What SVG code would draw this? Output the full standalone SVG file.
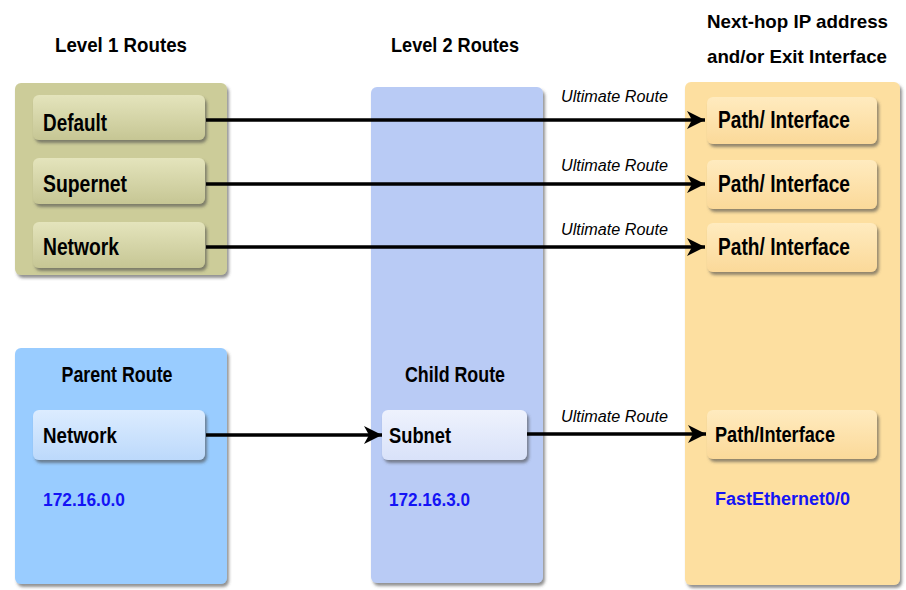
<svg xmlns="http://www.w3.org/2000/svg" width="906" height="590" viewBox="0 0 906 590">
<defs>
<filter id="sh" x="-10%" y="-10%" width="130%" height="130%">
<feDropShadow dx="2" dy="3" stdDeviation="1.6" flood-color="#4a4a4a" flood-opacity="0.6"/>
</filter>
<linearGradient id="gOlive" x1="0" y1="0" x2="0" y2="1">
<stop offset="0" stop-color="#e4e4bc"/><stop offset="1" stop-color="#c6c694"/>
</linearGradient>
<linearGradient id="gBlue" x1="0" y1="0" x2="0" y2="1">
<stop offset="0" stop-color="#dcecff"/><stop offset="1" stop-color="#bcd9fb"/>
</linearGradient>
<linearGradient id="gLav" x1="0" y1="0" x2="0" y2="1">
<stop offset="0" stop-color="#eef2fd"/><stop offset="1" stop-color="#d9e2f9"/>
</linearGradient>
<linearGradient id="gOrange" x1="0" y1="0" x2="0" y2="1">
<stop offset="0" stop-color="#ffebbf"/><stop offset="1" stop-color="#fbd999"/>
</linearGradient>
<marker id="arr" markerUnits="userSpaceOnUse" markerWidth="20" markerHeight="20" refX="18" refY="9" orient="auto">
<path d="M0,0 L18,9 L0,18 L5,9 z" fill="#000"/>
</marker>
<style>
text{font-family:"Liberation Sans",Arial,sans-serif;font-weight:bold;fill:#000}
.t{font-size:21px}
.t2{font-size:19px}
.l{font-size:24px}
.m{font-size:22px}
.ip{font-size:18px;fill:#1414f5}
.u{font-size:16px;font-weight:normal;font-style:italic}
.cont{filter:url(#sh)}
.box{filter:url(#sh)}
.conn{stroke:#000;stroke-width:3.5;fill:none;marker-end:url(#arr)}
</style>
</defs>
<rect width="906" height="590" fill="#fff"/>

<g id="titles">
<text class="t" x="121" y="52" text-anchor="middle" textLength="132" lengthAdjust="spacingAndGlyphs">Level 1 Routes</text>
<text class="t" x="455" y="52" text-anchor="middle" textLength="128" lengthAdjust="spacingAndGlyphs">Level 2 Routes</text>
<text class="t2" x="707" y="28" textLength="181" lengthAdjust="spacingAndGlyphs">Next-hop IP address</text>
<text class="t2" x="707" y="63" textLength="180" lengthAdjust="spacingAndGlyphs">and/or Exit Interface</text>
</g>

<g id="level1">
<rect class="cont" x="15" y="83" width="212" height="192" rx="6" fill="#cccc99"/>
<g id="default">
<rect class="box" x="33" y="95" width="172" height="45" rx="6" fill="url(#gOlive)"/>
<text class="l" x="43" y="131" textLength="64" lengthAdjust="spacingAndGlyphs">Default</text>
</g>
<g id="supernet">
<rect class="box" x="33" y="158" width="172" height="46" rx="6" fill="url(#gOlive)"/>
<text class="l" x="43" y="192" textLength="84" lengthAdjust="spacingAndGlyphs">Supernet</text>
</g>
<g id="network1">
<rect class="box" x="33" y="222" width="172" height="46" rx="6" fill="url(#gOlive)"/>
<text class="l" x="43" y="255" textLength="76" lengthAdjust="spacingAndGlyphs">Network</text>
</g>
</g>

<g id="parent">
<rect class="cont" x="15" y="348" width="212" height="236" rx="6" fill="#99ccff"/>
<text class="m" x="117" y="382" text-anchor="middle" textLength="111" lengthAdjust="spacingAndGlyphs">Parent Route</text>
<g id="network2">
<rect class="box" x="33" y="410" width="172" height="50" rx="6" fill="url(#gBlue)"/>
<text class="m" x="43" y="443" textLength="74" lengthAdjust="spacingAndGlyphs">Network</text>
</g>
<text class="ip" x="43" y="506" textLength="82" lengthAdjust="spacingAndGlyphs">172.16.0.0</text>
</g>

<g id="level2">
<rect class="cont" x="371" y="87" width="172" height="496" rx="6" fill="#b9cbf5"/>
<text class="m" x="455" y="382" text-anchor="middle" textLength="100" lengthAdjust="spacingAndGlyphs">Child Route</text>
<g id="subnet">
<rect class="box" x="382" y="410" width="145" height="50" rx="6" fill="url(#gLav)"/>
<text class="m" x="389" y="443" textLength="62" lengthAdjust="spacingAndGlyphs">Subnet</text>
</g>
<text class="ip" x="389" y="506" textLength="81" lengthAdjust="spacingAndGlyphs">172.16.3.0</text>
</g>

<g id="nexthop">
<rect class="cont" x="685" y="82" width="215" height="503" rx="6" fill="#fddfa0"/>
<g id="path1">
<rect class="box" x="707" y="97" width="170" height="47" rx="6" fill="url(#gOrange)"/>
<text class="l" x="718" y="128" textLength="132" lengthAdjust="spacingAndGlyphs">Path/ Interface</text>
</g>
<g id="path2">
<rect class="box" x="707" y="160" width="170" height="49" rx="6" fill="url(#gOrange)"/>
<text class="l" x="718" y="192" textLength="132" lengthAdjust="spacingAndGlyphs">Path/ Interface</text>
</g>
<g id="path3">
<rect class="box" x="707" y="223" width="170" height="49" rx="6" fill="url(#gOrange)"/>
<text class="l" x="718" y="255" textLength="132" lengthAdjust="spacingAndGlyphs">Path/ Interface</text>
</g>
<g id="path4">
<rect class="box" x="707" y="410" width="170" height="49" rx="6" fill="url(#gOrange)"/>
<text class="m" x="715" y="442" textLength="120" lengthAdjust="spacingAndGlyphs">Path/Interface</text>
</g>
<text class="ip" x="715" y="505" textLength="135" lengthAdjust="spacingAndGlyphs">FastEthernet0/0</text>
</g>

<g id="connectors">
<line class="conn" x1="206" y1="120" x2="705" y2="120"/>
<line class="conn" x1="206" y1="184" x2="705" y2="184"/>
<line class="conn" x1="206" y1="247" x2="705" y2="247"/>
<line class="conn" x1="206" y1="435" x2="382" y2="435"/>
<line class="conn" x1="527" y1="434" x2="706" y2="434"/>
<text class="u" x="561" y="102" textLength="107" lengthAdjust="spacingAndGlyphs">Ultimate Route</text>
<text class="u" x="561" y="171" textLength="107" lengthAdjust="spacingAndGlyphs">Ultimate Route</text>
<text class="u" x="561" y="235" textLength="107" lengthAdjust="spacingAndGlyphs">Ultimate Route</text>
<text class="u" x="561" y="422" textLength="107" lengthAdjust="spacingAndGlyphs">Ultimate Route</text>
</g>
</svg>
